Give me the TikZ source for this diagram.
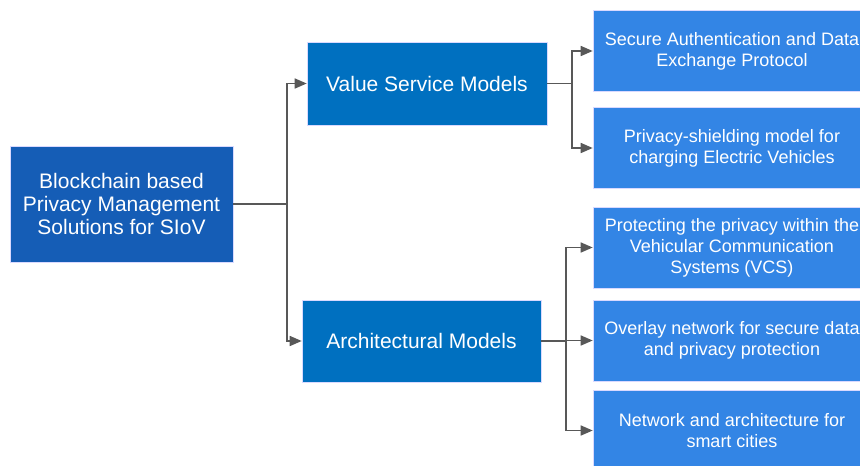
\documentclass[tikz,border=0pt]{standalone}
\usepackage{fontspec}
\setmainfont{Liberation Sans}
\usetikzlibrary{arrows.meta}
\definecolor{rootblue}{RGB}{21,93,182}
\definecolor{midblue}{RGB}{0,112,192}
\definecolor{leafblue}{RGB}{51,133,229}
\definecolor{linegray}{RGB}{88,88,88}
\tikzset{
  box/.style={draw=white!85!blue, line width=0.6pt, text=white, align=center, inner sep=0pt},
  rootbox/.style={box, fill=rootblue, minimum width=223pt, minimum height=116pt, font=\fontsize{21}{23}\selectfont},
  midbox/.style={box, fill=midblue, minimum width=240pt, minimum height=83pt, font=\fontsize{21}{23}\selectfont},
  leafbox/.style={box, fill=leafblue, minimum width=278pt, minimum height=81pt, font=\fontsize{18}{21}\selectfont},
  conn/.style={draw=linegray, line width=1.6pt},
  arr/.style={conn, -{Triangle[length=12pt,width=10pt]}}
}
\begin{document}
\begin{tikzpicture}[x=1pt,y=-1pt]
\useasboundingbox (0,0) rectangle (860,466);
\clip (0,0) rectangle (860,466);
\fill[white] (0,0) rectangle (860,466);
\node[rootbox] (root) at (121.5,204) {Blockchain based\\Privacy Management\\Solutions for SIoV};
\node[midbox] (vsm) at (427,83.5) {Value Service Models};
\node[midbox, minimum width=239pt, minimum height=82pt] (arch) at (421.5,341) {Architectural Models};
\node[leafbox] (b1) at (732,51) {Secure Authentication and Data\\Exchange Protocol};
\node[leafbox] (b2) at (732,148) {Privacy-shielding model for\\charging Electric Vehicles};
\node[leafbox] (b3) at (732,247.5) {Protecting the privacy within the\\Vehicular Communication\\Systems (VCS)};
\node[leafbox] (b4) at (732,340.5) {Overlay network for secure data\\and privacy protection};
\node[leafbox] (b5) at (732,430.5) {Network and architecture for\\smart cities};
\coordinate (j1) at (287,204);
\coordinate (j2) at (572,83.5);
\coordinate (j3) at (566,341);
\draw[conn] (root.east) -- (j1);
\draw[arr] (j1) |- (vsm.west);
\draw[arr] (j1) |- (arch.west);
\draw[conn] (vsm.east) -- (j2);
\draw[arr] (j2) |- (b1.west);
\draw[arr] (j2) |- (b2.west);
\draw[conn] (arch.east) -- (j3);
\draw[arr] (j3) |- (b3.west);
\draw[arr] (j3) |- (b4.west);
\draw[arr] (j3) |- (b5.west);
\end{tikzpicture}
\end{document}
